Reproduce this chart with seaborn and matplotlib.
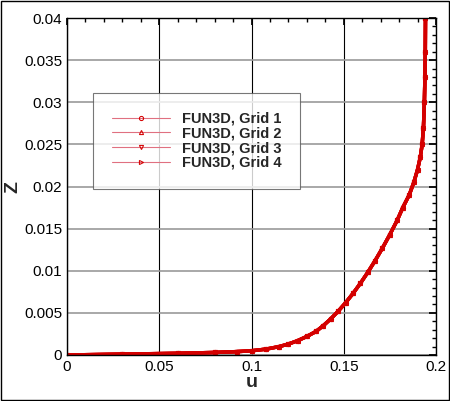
import matplotlib
matplotlib.use("Agg")
import matplotlib.pyplot as plt
import seaborn as sns
import numpy as np
from matplotlib.ticker import MultipleLocator

sns.set_theme(style="white")
plt.rcParams['font.family'] = ['Liberation Sans', 'DejaVu Sans']

z = [0.0, 0.0001, 0.0002, 0.0003, 0.0004, 0.0005, 0.0007, 0.001, 0.0013, 0.0017, 0.0022,
     0.0028, 0.0035, 0.0043, 0.0052, 0.0062, 0.0073, 0.0085, 0.0098, 0.0112, 0.0127,
     0.0143, 0.016, 0.0175, 0.019, 0.0205, 0.022, 0.0235, 0.025, 0.027, 0.03, 0.033, 0.036, 0.04]
u = [0.0, 0.03, 0.06, 0.08, 0.092, 0.1, 0.108, 0.115, 0.12, 0.125, 0.13,
     0.135, 0.139, 0.143, 0.147, 0.151, 0.155, 0.159, 0.163, 0.167, 0.171,
     0.175, 0.179, 0.182, 0.1855, 0.188, 0.19, 0.1915, 0.1925, 0.1932, 0.1937, 0.194, 0.1942, 0.1943]
grids = ["FUN3D, Grid 1", "FUN3D, Grid 2", "FUN3D, Grid 3", "FUN3D, Grid 4"]
markers = ["o", "^", "v", ">"]
red = '#d40000'

fig = plt.figure(figsize=(4.5, 4.01), dpi=100)
ax = fig.add_axes([67/450, 46/401, 369/450, 337/401])
fig.patches.append(plt.Rectangle((0.002, 0.002), 0.995, 0.995, transform=fig.transFigure,
                                 fill=False, edgecolor='black', lw=1))
for g, m in zip(grids, markers):
    sns.lineplot(x=u, y=z, ax=ax, color=red, lw=2.5, marker=m, markersize=3,
                 markeredgecolor=red, markerfacecolor='none', sort=False,
                 estimator=None, label=g)

ax.set_xlim(0, 0.2)
ax.set_ylim(0, 0.04)
ax.set_xticks([0, 0.05, 0.1, 0.15, 0.2], ["0", "0.05", "0.1", "0.15", "0.2"])
ax.set_yticks([0, 0.005, 0.01, 0.015, 0.02, 0.025, 0.03, 0.035, 0.04],
              ["0", "0.005", "0.01", "0.015", "0.02", "0.025", "0.03", "0.035", "0.04"])
ax.xaxis.set_minor_locator(MultipleLocator(0.01))
ax.yaxis.set_minor_locator(MultipleLocator(0.001))
ax.set_axisbelow(True)
ax.xaxis.grid(True, which='major', color='black', lw=0.8)
ax.yaxis.grid(True, which='major', color='#999999', lw=1.2)
ax.tick_params(which='both', direction='in', top=True, right=True, labelsize=11, colors='black')
ax.tick_params(which='major', length=5)
ax.tick_params(which='minor', length=3)
for s in ax.spines.values():
    s.set_color('black'); s.set_linewidth(1)
ax.set_xlabel("u", fontsize=14, fontweight='bold', labelpad=0)
ax.set_ylabel("Z", fontsize=14, fontweight='bold', labelpad=2)
leg = ax.legend(loc='upper left', bbox_to_anchor=(0.05, 0.8), frameon=True, fancybox=False,
                edgecolor='#555555', prop={'weight': 'bold', 'size': 10.5},
                handlelength=4, borderpad=1.3, labelspacing=0.05, numpoints=1)
leg.get_frame().set_linewidth(0.8)
for h in leg.get_lines():
    h.set_linewidth(0.8)
    h.set_color('#e07080')
    h.set_markeredgecolor(red)
    h.set_markerfacecolor('none')
fig.savefig("out.png", dpi=100)
